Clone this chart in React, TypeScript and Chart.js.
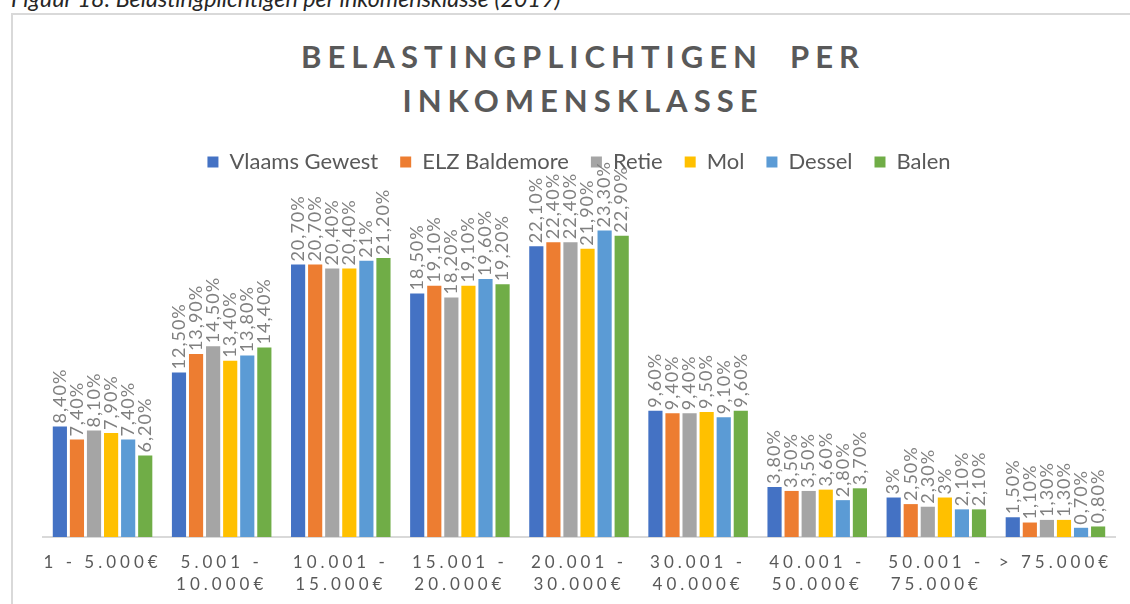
import React, { useEffect, useRef } from 'react';
import { Chart, registerables } from 'chart.js';

Chart.register(...registerables);

const captionText = 'Figuur 18: Belastingplichtigen per inkomensklasse (2019)';
const titleLines = ['BELASTINGPLICHTIGEN  PER', 'INKOMENSKLASSE'];

const categories: string[][] = [
  ['1 - 5.000€'],
  ['5.001 -', '10.000€'],
  ['10.001 -', '15.000€'],
  ['15.001 -', '20.000€'],
  ['20.001 -', '30.000€'],
  ['30.001 -', '40.000€'],
  ['40.001 -', '50.000€'],
  ['50.001 -', '75.000€'],
  ['> 75.000€'],
];

const seriesNames = ['Vlaams Gewest', 'ELZ Baldemore', 'Retie', 'Mol', 'Dessel', 'Balen'];

const vlaamsGewest = [8.4, 12.5, 20.7, 18.5, 22.1, 9.6, 3.8, 3.0, 1.5];
const elzBaldemore = [7.4, 13.9, 20.7, 19.1, 22.4, 9.4, 3.5, 2.5, 1.1];
const retie = [8.1, 14.5, 20.4, 18.2, 22.4, 9.4, 3.5, 2.3, 1.3];
const mol = [7.9, 13.4, 20.4, 19.1, 21.9, 9.5, 3.6, 3.0, 1.3];
const dessel = [7.4, 13.8, 21.0, 19.6, 23.3, 9.1, 2.8, 2.1, 0.7];
const balen = [6.2, 14.4, 21.2, 19.2, 22.9, 9.6, 3.7, 2.1, 0.8];

const seriesValues = [vlaamsGewest, elzBaldemore, retie, mol, dessel, balen];
const seriesColors = ['#4472C4', '#ED7D31', '#A5A5A5', '#FFC000', '#5B9BD5', '#70AD47'];

const FONT = 'Lato, "Open Sans", sans-serif';

function formatPct(v: number): string {
  if (Number.isInteger(v)) return `${v}%`;
  return `${v.toFixed(2).replace('.', ',')}%`;
}

const barLabelPlugin = {
  id: 'barLabels',
  afterDatasetsDraw(chart: any) {
    const ctx = chart.ctx as CanvasRenderingContext2D;
    ctx.save();
    ctx.font = `18px ${FONT}`;
    (ctx as any).letterSpacing = '1px';
    ctx.fillStyle = '#808080';
    ctx.textAlign = 'left';
    ctx.textBaseline = 'middle';
    chart.data.datasets.forEach((ds: any, di: number) => {
      const meta = chart.getDatasetMeta(di);
      meta.data.forEach((bar: any, i: number) => {
        const v = ds.data[i] as number;
        ctx.save();
        ctx.translate(bar.x, bar.y - 3);
        ctx.rotate(-Math.PI / 2);
        ctx.fillText(formatPct(v), 0, 0);
        ctx.restore();
      });
    });
    ctx.restore();
    // spaced-out category labels (tick layer is drawn after this hook)
    (ctx as any).letterSpacing = '4px';
  },
  afterDraw(chart: any) {
    (chart.ctx as any).letterSpacing = '0px';
  },
};

export default function App() {
  const canvasRef = useRef<HTMLCanvasElement | null>(null);

  useEffect(() => {
    const canvas = canvasRef.current;
    if (!canvas) return;
    const chart = new Chart(canvas, {
      type: 'bar',
      data: {
        labels: categories,
        datasets: seriesNames.map((name, i) => ({
          label: name,
          data: seriesValues[i],
          backgroundColor: seriesColors[i],
          borderWidth: 0,
          categoryPercentage: 0.86,
          barPercentage: 0.83,
        })),
      },
      options: {
        animation: false,
        responsive: false,
        maintainAspectRatio: false,
        layout: { padding: { top: 29, left: 43, right: 15, bottom: 0 } },
        plugins: {
          title: { display: false },
          tooltip: { enabled: false },
          legend: {
            display: true,
            position: 'top',
            labels: {
              boxWidth: 11,
              boxHeight: 11,
              padding: 22,
              color: '#595959',
              font: { family: FONT, size: 22 },
            },
          },
        },
        scales: {
          x: {
            grid: { display: false, drawTicks: false },
            border: { display: true, color: '#d9d9d9', width: 2 },
            ticks: {
              z: 1,
              color: '#595959',
              padding: 15,
              maxRotation: 0,
              autoSkip: false,
              font: { family: FONT, size: 17, lineHeight: '22px' },
            },
          },
          y: {
            display: false,
            min: 0,
            max: 26.9,
          },
        },
      },
      plugins: [barLabelPlugin],
    });
    return () => chart.destroy();
  }, []);

  return (
    <div
      style={{
        position: 'fixed',
        left: 0,
        top: 0,
        width: 1130,
        height: 604,
        overflow: 'hidden',
        background: '#ffffff',
        fontFamily: FONT,
      }}
    >
      <div
        style={{
          position: 'absolute',
          left: 11,
          top: -13,
          fontSize: 23.3,
          lineHeight: '23px',
          fontStyle: 'italic',
          color: '#262626',
          whiteSpace: 'nowrap',
        }}
      >
        {captionText}
      </div>
      <div
        style={{
          position: 'absolute',
          left: 11,
          top: 13,
          width: 1200,
          height: 700,
          border: '2px solid #d9d9d9',
          boxSizing: 'border-box',
        }}
      />
      {titleLines.map((line, i) => (
        <div
          key={line}
          style={{
            position: 'absolute',
            left: 0,
            width: 1166,
            top: i === 0 ? 41 : 85,
            textAlign: 'center',
            fontSize: 31,
            lineHeight: '31px',
            fontWeight: 700,
            letterSpacing: '6px',
            color: '#595959',
            whiteSpace: 'pre',
          }}
        >
          {line}
        </div>
      ))}
      <canvas
        ref={canvasRef}
        width={1130}
        height={511}
        style={{ position: 'absolute', left: 0, top: 100, width: 1130, height: 511 }}
      />
    </div>
  );
}
